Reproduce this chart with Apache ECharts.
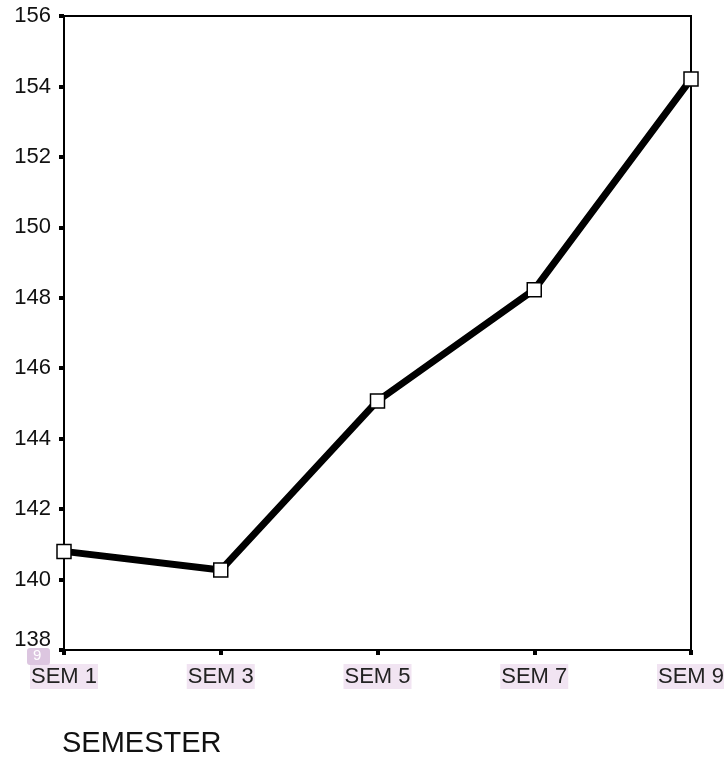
<!DOCTYPE html>
<html><head><meta charset="utf-8">
<script src="https://cdn.jsdelivr.net/npm/echarts@6/dist/echarts.min.js"></script>
<style>html,body{margin:0;padding:0;background:#fff}#c{width:724px;height:759px}</style>
</head><body><div id="c"></div>
<script>
const categories = ['SEM 1', 'SEM 3', 'SEM 5', 'SEM 7', 'SEM 9'];
const values = [140.8, 140.27, 145.07, 148.23, 154.21];
const yMin = 138, yMax = 156, yStep = 2;
const xTitle = 'SEMESTER';

const chart = echarts.init(document.getElementById('c'));
chart.setOption({
  animation: false,
  backgroundColor: '#fff',
  grid: { left: 64, right: 33, top: 16, bottom: 109, outerBoundsMode: 'none', containLabel: false,
    show: true, borderColor: '#000', borderWidth: 2, backgroundColor: 'transparent' },
  xAxis: {
    type: 'category', data: categories, boundaryGap: false,
    axisLine: { lineStyle: { color: '#000', width: 2 } },
    axisTick: { show: true, alignWithLabel: true, length: 5, lineStyle: { color: '#000', width: 4 } },
    axisLabel: { color: '#222', fontFamily: 'Liberation Sans, Arial', fontSize: 22, margin: 14,
      backgroundColor: '#f1e4f2', padding: [2, 1, 1, 1], showMinLabel: true, showMaxLabel: true },
    splitLine: { show: false }
  },
  yAxis: {
    type: 'value', min: yMin, max: yMax, interval: yStep,
    axisLine: { show: true, lineStyle: { color: '#000', width: 2 } },
    axisTick: { show: true, length: 5, lineStyle: { color: '#000', width: 4 } },
    axisLabel: { color: '#111', fontFamily: 'Liberation Sans, Arial', fontSize: 22, margin: 13,
      formatter: v => v === yMin ? '{low|' + v + '}' : String(v),
      rich: { low: { fontFamily: 'Liberation Sans, Arial', fontSize: 22, color: '#111', padding: [0, 0, 20, 0] } } },
    splitLine: { show: false }
  },
  graphic: [
    { type: 'rect', left: 27, top: 648, shape: { width: 23, height: 17, r: 3 }, style: { fill: '#dcc6e0' }, z: 10 },
    { type: 'text', left: 33, top: 648, style: { text: '9', fill: '#fff', font: '15px Liberation Sans' }, z: 11 },
    { type: 'text', left: 62, top: 729, style: { text: xTitle, fill: '#111', font: '29px Liberation Sans' } }
  ],
  series: [{
    type: 'line', data: values,
    lineStyle: { color: '#000', width: 7 },
    symbol: 'rect', symbolSize: 14,
    itemStyle: { color: '#fff', borderColor: '#000', borderWidth: 1.5 },
    z: 5
  }]
});
</script>
</body></html>
